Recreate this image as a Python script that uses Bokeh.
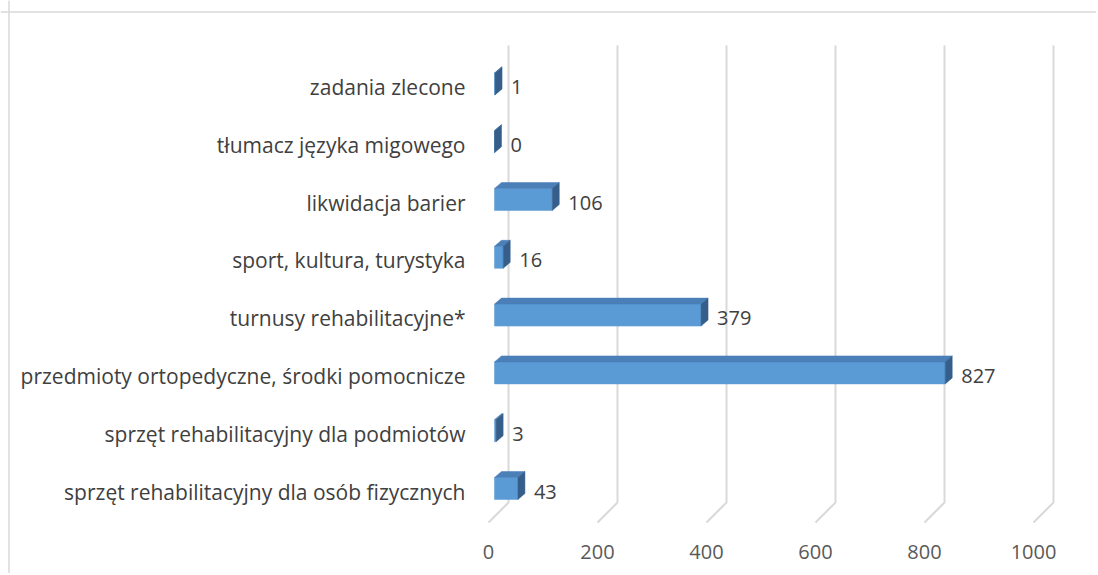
from bokeh.plotting import figure
from bokeh.models import Range1d, Span, ColumnDataSource
from bokeh.core.properties import value
from bokeh.embed import file_html
from bokeh.resources import INLINE

# ---- data (bottom to top) ----
categories = [
    "sprzęt rehabilitacyjny dla osób fizycznych",
    "sprzęt rehabilitacyjny dla podmiotów",
    "przedmioty ortopedyczne, środki pomocnicze",
    "turnusy rehabilitacyjne*",
    "sport, kultura, turystyka",
    "likwidacja barier",
    "tłumacz języka migowego",
    "zadania zlecone",
]
values = [43, 3, 827, 379, 16, 106, 0, 1]
ticks = [0, 200, 400, 600, 800, 1000]
tick_labels = ["0", "200", "400", "600", "800", "1000"]

# ---- layout (pixels) ----
W, H = 1096, 573
PX_X = 0.545          # px per data unit along x
PX_Y = 57.8           # px per category step
X0_CANVAS = 488       # canvas x of front-floor zero
Y0_CANVAS = 488       # canvas y of first category center

x_range = Range1d(-X0_CANVAS / PX_X, (W - X0_CANVAS) / PX_X)
y_range = Range1d(-(H - Y0_CANVAS) / PX_Y, Y0_CANVAS / PX_Y)

def ux(px):
    return px / PX_X

def uy(px):
    return px / PX_Y

p = figure(width=W, height=H, x_range=x_range, y_range=y_range,
           output_backend="svg", toolbar_location=None,
           min_border=0, min_border_left=0, min_border_right=0,
           min_border_top=0, min_border_bottom=0)
p.axis.visible = False
p.grid.visible = False
p.outline_line_color = None
p.background_fill_color = "white"
p.border_fill_color = "white"

# chart-area border (left and top edges visible)
p.add_layout(Span(location=-ux(X0_CANVAS - 8.5), dimension="height",
                  line_color="#d9d9d9", line_width=1.5))
p.add_layout(Span(location=uy(Y0_CANVAS - 11.5), dimension="width",
                  line_color="#d9d9d9", line_width=1.5))

# ---- gridlines (3D floor + back wall) ----
grid_dx = ux(20)
y_floor_front = -uy(34)
y_floor_back = -uy(14)
y_wall_top = uy(443)
gx, gy = [], []
for t in ticks:
    gx.append([t, t + grid_dx, t + grid_dx])
    gy.append([y_floor_front, y_floor_back, y_wall_top])
p.multi_line(gx, gy, line_color="#d9d9d9", line_width=2)

# ---- 3D bars ----
bar_start = ux(6)
depth_x = ux(7)
depth_y = uy(6)
half_h = uy(22) / 2
fx, fy, tx, ty, sx, sy = [], [], [], [], [], []
for i, v in enumerate(values):
    c = i
    x0 = bar_start
    x1 = bar_start + v
    fx.append([x0, x1, x1, x0])
    fy.append([c - half_h, c - half_h, c + half_h, c + half_h])
    tx.append([x0, x1, x1 + depth_x, x0 + depth_x])
    ty.append([c + half_h, c + half_h, c + half_h + depth_y, c + half_h + depth_y])
    sx.append([x1, x1 + depth_x, x1 + depth_x, x1])
    sy.append([c - half_h, c - half_h + depth_y, c + half_h + depth_y, c + half_h])
p.patches(fx, fy, fill_color="#5b9bd5", line_color="#5b9bd5", line_width=0.5)
p.patches(tx, ty, fill_color="#4a7fb8", line_color="#4a7fb8", line_width=0.5)
p.patches(sx, sy, fill_color="#355f8a", line_color="#355f8a", line_width=0.5)

FONT = value("Open Sans")

# ---- value labels ----
vsrc = ColumnDataSource(dict(
    x=[bar_start + v + depth_x for v in values],
    y=list(range(len(values))),
    t=[str(v) for v in values]))
p.text(x="x", y="y", text="t", source=vsrc, x_offset=9, y_offset=3,
       text_font=FONT, text_font_size="20px", text_color="#404040",
       text_align="left", text_baseline="middle")

# ---- category labels ----
csrc = ColumnDataSource(dict(
    x=[-ux(23)] * len(categories),
    y=list(range(len(categories))),
    t=categories))
p.text(x="x", y="y", text="t", source=csrc, y_offset=3,
       text_font=FONT, text_font_size="21px", text_color="#404040",
       text_align="right", text_baseline="middle")

# ---- x tick labels ----
tsrc = ColumnDataSource(dict(x=ticks, y=[-uy(63)] * len(ticks), t=tick_labels))
p.text(x="x", y="y", text="t", source=tsrc,
       text_font=FONT, text_font_size="20px", text_color="#595959",
       text_align="center", text_baseline="middle")

open("out.html", "w").write(file_html(p, INLINE))
